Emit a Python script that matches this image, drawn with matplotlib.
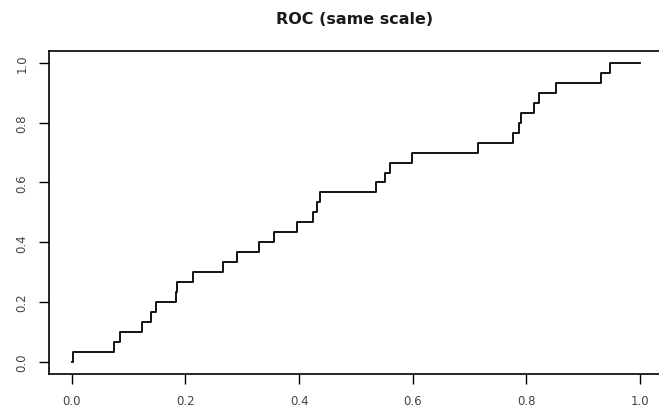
import numpy as np
import matplotlib.pyplot as plt

plt.rcParams['font.family'] = ['DejaVu Sans']

# false positive rate at each step, true positive count (out of 30)
fpr = [0.0, 0.003, 0.0745, 0.085, 0.123, 0.139, 0.148, 0.1835, 0.186, 0.213,
       0.266, 0.291, 0.329, 0.355, 0.396, 0.424, 0.431, 0.437, 0.535, 0.551,
       0.560, 0.599, 0.7155, 0.776, 0.787, 0.791, 0.814, 0.822, 0.852, 0.931,
       0.947, 1.0]
tp_count = [0, 1, 2, 3, 4, 5, 6, 7, 8, 9, 10, 11, 12, 13, 14, 15, 16, 17, 18,
            19, 20, 21, 22, 23, 24, 25, 26, 27, 28, 29, 30, 30]
n_pos = 30
tpr = np.array(tp_count) / n_pos

ticks = [0.0, 0.2, 0.4, 0.6, 0.8, 1.0]
tick_labels = ['0.0', '0.2', '0.4', '0.6', '0.8', '1.0']

fig = plt.figure(figsize=(6.59, 4.14), dpi=100)
ax = fig.add_axes([0.0744, 0.0952, 0.9314, 0.779])

ax.step(fpr, tpr, where='post', color='black', linewidth=1.3)

ax.set_xlim(-0.04, 1.04)
ax.set_ylim(-0.04, 1.04)
ax.set_xticks(ticks)
ax.set_xticklabels(tick_labels)
ax.set_yticks(ticks)
ax.set_yticklabels(tick_labels, rotation=90, va='center')
ax.tick_params(direction='out', length=7, width=1, labelsize=8.5,
               labelcolor='#444444', pad=8)

for s in ax.spines.values():
    s.set_linewidth(1.2)

fig.text(0.538, 0.953, 'ROC (same scale)', ha='center', va='center',
         fontsize=11.5, fontweight='bold', color='#1a1a1a')

fig.savefig('out.png', dpi=100)
